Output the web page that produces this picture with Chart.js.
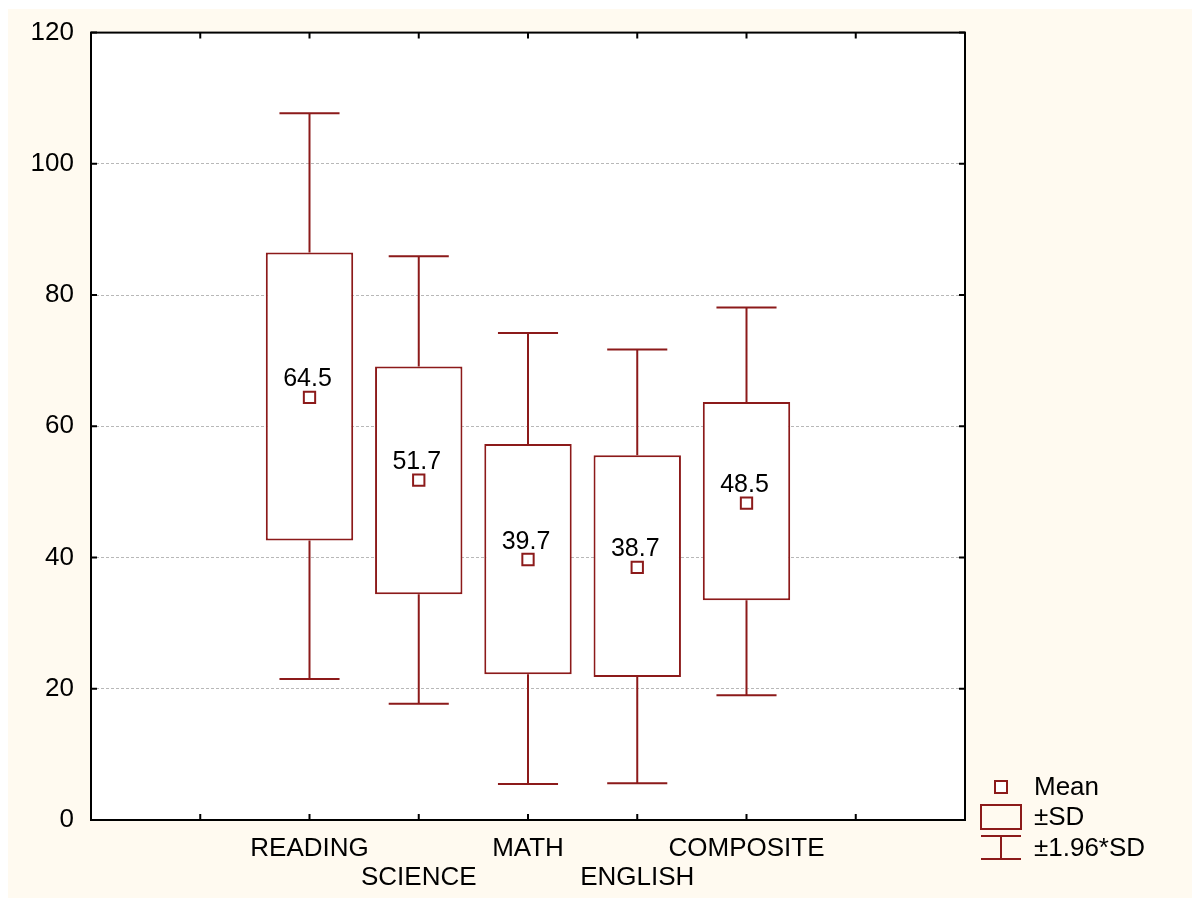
<!DOCTYPE html>
<html lang="en">
<head>
    <meta charset="UTF-8">
    <title>Scores box plot</title>
    <script src="https://cdn.jsdelivr.net/npm/chart.js"></script>
    <style>
        html, body {
            margin: 0;
            padding: 0;
            background: #ffffff;
        }
        #wrap {
            width: 1192px;
            height: 898px;
            position: relative;
        }
    </style>
</head>
<body>
    <div id="wrap"><canvas id="boxChart"></canvas></div>

    <script>
        // values
        const categories = ['READING', 'SCIENCE', 'MATH', 'ENGLISH', 'COMPOSITE'];
        const positions = [2, 3, 4, 5, 6];
        const means = [64.5, 51.7, 39.7, 38.7, 48.5];
        const meanMarks = [64.4, 51.8, 39.7, 38.5, 48.3];
        const sdLow = [42.6, 34.4, 22.2, 21.8, 33.5];
        const sdHigh = [86.5, 69.1, 57.3, 55.6, 63.7];
        const whiskerLow = [21.5, 17.7, 5.5, 5.6, 19.0];
        const whiskerHigh = [107.7, 85.9, 74.2, 71.7, 78.1];
        const yTicks = [0, 20, 40, 60, 80, 100, 120];
        const legendLabels = ['Mean', '±SD', '±1.96*SD'];

        const red = '#8c1a1a';
        const cream = '#fffaf0';
        const font = "'Liberation Sans', Arial, sans-serif";
        const capHalf = 0.275;

        // whisker segments, gaps split by y: null
        const whiskerPoints = [];
        positions.forEach((x, i) => {
            whiskerPoints.push({x: x, y: whiskerLow[i]}, {x: x, y: sdLow[i]}, {x: x, y: null});
            whiskerPoints.push({x: x, y: sdHigh[i]}, {x: x, y: whiskerHigh[i]}, {x: x, y: null});
            whiskerPoints.push({x: x - capHalf, y: whiskerLow[i]}, {x: x + capHalf, y: whiskerLow[i]}, {x: x, y: null});
            whiskerPoints.push({x: x - capHalf, y: whiskerHigh[i]}, {x: x + capHalf, y: whiskerHigh[i]}, {x: x, y: null});
        });

        const framePlugin = {
            id: 'frame',
            beforeDraw(chart) {
                const ctx = chart.ctx;
                const a = chart.chartArea;
                ctx.save();
                ctx.fillStyle = '#ffffff';
                ctx.fillRect(0, 0, chart.width, chart.height);
                ctx.fillStyle = cream;
                ctx.fillRect(8, 9, chart.width - 8, chart.height - 9);
                ctx.fillStyle = '#ffffff';
                ctx.fillRect(a.left, a.top, a.right - a.left, a.bottom - a.top);
                ctx.restore();
            },
            afterDraw(chart) {
                const ctx = chart.ctx;
                const a = chart.chartArea;
                const xs = chart.scales.x;
                const ys = chart.scales.y;
                ctx.save();
                ctx.strokeStyle = '#000000';
                ctx.lineWidth = 2;
                ctx.strokeRect(a.left, a.top, a.right - a.left, a.bottom - a.top);
                // inward tick marks on all four sides
                ctx.beginPath();
                for (let v = 1; v <= 7; v++) {
                    const px = xs.getPixelForValue(v);
                    ctx.moveTo(px, a.bottom); ctx.lineTo(px, a.bottom - 6);
                    ctx.moveTo(px, a.top); ctx.lineTo(px, a.top + 6);
                }
                yTicks.forEach(v => {
                    const py = ys.getPixelForValue(v);
                    ctx.moveTo(a.left, py); ctx.lineTo(a.left + 6, py);
                    ctx.moveTo(a.right, py); ctx.lineTo(a.right - 6, py);
                });
                ctx.stroke();

                // mean labels
                ctx.fillStyle = '#000000';
                ctx.font = '25px ' + font;
                ctx.textAlign = 'center';
                ctx.textBaseline = 'alphabetic';
                positions.forEach((x, i) => {
                    const px = xs.getPixelForValue(x);
                    const py = ys.getPixelForValue(meanMarks[i]);
                    ctx.fillText(means[i].toFixed(1), px - 2, py - 11);
                });

                // legend
                const lx = 1001, tx = 1034;
                const rows = [787, 817, 848];
                ctx.font = '26px ' + font;
                ctx.strokeStyle = red;
                ctx.lineWidth = 2;
                ctx.fillStyle = '#ffffff';
                ctx.fillRect(995, rows[0] - 6, 12, 12);
                ctx.strokeRect(995, rows[0] - 6, 12, 12);
                ctx.strokeRect(981, 805, 40, 24);
                ctx.beginPath();
                ctx.moveTo(981, 836); ctx.lineTo(1021, 836);
                ctx.moveTo(981, 859); ctx.lineTo(1021, 859);
                ctx.moveTo(lx, 836); ctx.lineTo(lx, 859);
                ctx.stroke();
                ctx.fillStyle = '#000000';
                ctx.textAlign = 'left';
                ctx.textBaseline = 'middle';
                legendLabels.forEach((t, i) => ctx.fillText(t, tx, rows[i] + 1));
                ctx.restore();
            }
        };

        const ctx = document.getElementById('boxChart').getContext('2d');
        new Chart(ctx, {
            type: 'bar',
            data: {
                datasets: [{
                    type: 'scatter',
                    label: 'Mean',
                    data: positions.map((x, i) => ({x: x, y: meanMarks[i]})),
                    pointStyle: 'rect',
                    pointRadius: 8,
                    pointBackgroundColor: '#ffffff',
                    pointBorderColor: red,
                    pointBorderWidth: 2,
                    order: 0
                }, {
                    type: 'line',
                    label: '±1.96*SD',
                    data: whiskerPoints,
                    borderColor: red,
                    borderWidth: 2,
                    pointRadius: 0,
                    spanGaps: false,
                    fill: false,
                    order: 2
                }, {
                    type: 'bar',
                    label: '±SD',
                    data: positions.map((x, i) => ({x: x, y: [sdLow[i], sdHigh[i]]})),
                    backgroundColor: '#ffffff',
                    borderColor: red,
                    borderWidth: 2,
                    borderSkipped: false,
                    barPercentage: 0.8,
                    categoryPercentage: 1,
                    order: 1
                }]
            },
            options: {
                responsive: true,
                maintainAspectRatio: false,
                animation: false,
                layout: {
                    padding: {left: 0, right: 227, top: 32, bottom: 0}
                },
                plugins: {
                    legend: {display: false},
                    tooltip: {enabled: false}
                },
                scales: {
                    x: {
                        type: 'linear',
                        min: 0,
                        max: 8,
                        offset: false,
                        grid: {display: false, drawTicks: false},
                        border: {display: false},
                        afterFit: scale => { scale.height = 78; },
                        afterBuildTicks: scale => {
                            scale.ticks = positions.map(v => ({value: v}));
                        },
                        ticks: {
                            autoSkip: false,
                            maxRotation: 0,
                            padding: 14,
                            color: '#000000',
                            font: {family: font, size: 26, lineHeight: 1.13},
                            callback: value => {
                                const i = positions.indexOf(value);
                                if (i < 0) return '';
                                return i % 2 === 0 ? [categories[i], ''] : ['', categories[i]];
                            }
                        }
                    },
                    y: {
                        min: 0,
                        max: 120,
                        afterFit: scale => { scale.width = 91; },
                        afterBuildTicks: scale => {
                            scale.ticks = yTicks.map(v => ({value: v}));
                        },
                        grid: {
                            drawTicks: false,
                            color: ctx => (ctx.tick && (ctx.tick.value === 0 || ctx.tick.value === 120)) ? 'rgba(0,0,0,0)' : '#b8b8b8',
                            lineWidth: 1
                        },
                        border: {display: false, dash: [3, 2]},
                        ticks: {
                            padding: 17,
                            color: '#000000',
                            font: {family: font, size: 26}
                        }
                    }
                }
            },
            plugins: [framePlugin]
        });
    </script>
</body>
</html>
